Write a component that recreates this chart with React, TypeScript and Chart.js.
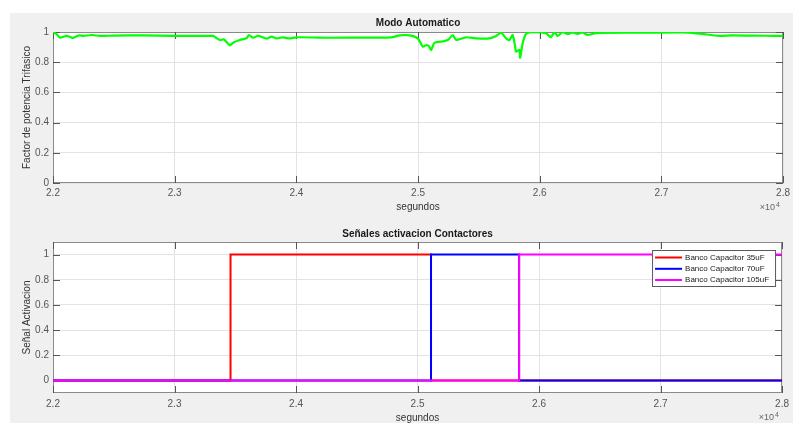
import React, { useEffect, useRef } from "react";
import { Chart, registerables } from "chart.js";

Chart.register(...registerables);

// ---------- data ----------
const xTicks = [22000, 23000, 24000, 25000, 26000, 27000, 28000];
const yTicksTop = [0, 0.2, 0.4, 0.6, 0.8, 1];
const yTicksBottom = [0, 0.2, 0.4, 0.6, 0.8, 1];

const titles = ["Modo Automatico", "Señales activacion Contactores"];
const xLabel = "segundos";
const yLabels = ["Factor de potencia Trifasico", "Señal Activacion"];
const legendLabels = ["Banco Capacitor 35uF", "Banco Capacitor 70uF", "Banco Capacitor 105uF"];

const pfTime = [
  22000, 22030, 22057, 22085, 22112, 22140, 22162, 22190, 22216, 22249,
  22318, 22386, 22500, 22741, 22988, 23316, 23340, 23371, 23404, 23430,
  23453, 23480, 23535, 23590, 23611, 23644, 23685, 23720, 23754, 23795,
  23836, 23890, 23945, 24000, 24301, 24600, 24780, 24850, 24930, 24998,
  25039, 25072, 25090, 25108, 25135, 25190, 25245, 25286, 25313, 25395,
  25477, 25587, 25642, 25683, 25724, 25751, 25778, 25795, 25806, 25833,
  25839, 25860, 25888, 25943, 26011, 26052, 26093, 26121, 26148, 26189,
  26230, 26271, 26312, 26353, 26394, 26462, 26763, 27174, 27311, 27475,
  27584, 27858, 28000,
];
const pfValue = [
  1.0, 0.985, 0.962, 0.968, 0.975, 0.968, 0.96, 0.97, 0.978, 0.974,
  0.98, 0.974, 0.976, 0.978, 0.974, 0.974, 0.962, 0.947, 0.951, 0.93,
  0.912, 0.929, 0.947, 0.958, 0.98, 0.962, 0.975, 0.966, 0.956, 0.969,
  0.958, 0.965, 0.958, 0.965, 0.962, 0.963, 0.964, 0.978, 0.978, 0.958,
  0.903, 0.914, 0.905, 0.881, 0.929, 0.936, 0.947, 0.98, 0.947, 0.965,
  0.958, 0.958, 0.974, 0.995, 0.958, 0.947, 0.98, 0.92, 0.87, 0.881,
  0.83, 0.925, 0.987, 1.0, 0.997, 0.991, 0.965, 1.0, 0.974, 1.0,
  0.985, 0.997, 0.987, 0.997, 0.98, 0.993, 0.995, 0.997, 0.989, 0.974,
  0.978, 0.975, 0.975,
];

// step signals: value holds until next time
const redTime = [22000, 23461, 25111, 28000];
const redValue = [0, 1, 0, 0];
const blueTime = [22000, 25111, 25836, 28000];
const blueValue = [0, 1, 0, 0];
const magentaTime = [22000, 25836, 28000];
const magentaValue = [0, 1, 1];

// ---------- styles ----------
const FONT = "'Liberation Sans', Arial, Helvetica, sans-serif";
const tickColor = "#555555";
const axisColor = "#555555";
const boxColor = "#8a8a8a";
const gridColor = "#e3e3e3";

const zip = (xs: number[], ys: number[]) => xs.map((x, i) => ({ x, y: ys[i] }));

const matlabPlugin = {
  id: "matlabAxes",
  beforeDraw(chart: any) {
    const { ctx, chartArea: a } = chart;
    ctx.save();
    ctx.fillStyle = "#ffffff";
    ctx.fillRect(a.left, a.top, a.right - a.left, a.bottom - a.top);
    ctx.restore();
  },
  beforeDatasetsDraw(chart: any) {
    const { ctx, chartArea: a, scales } = chart;
    const L = 7;
    ctx.save();
    ctx.strokeStyle = boxColor;
    ctx.lineWidth = 1;
    ctx.strokeRect(Math.round(a.left) + 0.5, Math.round(a.top) + 0.5, Math.round(a.right - a.left) - 1, Math.round(a.bottom - a.top) - 1);
    ctx.strokeStyle = axisColor;
    ctx.beginPath();
    scales.x.ticks.forEach((t: any) => {
      const px = Math.round(scales.x.getPixelForValue(t.value)) + 0.5;
      ctx.moveTo(px, a.bottom);
      ctx.lineTo(px, a.bottom - L);
      ctx.moveTo(px, a.top);
      ctx.lineTo(px, a.top + L);
    });
    scales.y.ticks.forEach((t: any) => {
      const py = Math.round(scales.y.getPixelForValue(t.value)) + 0.5;
      ctx.moveTo(a.left, py);
      ctx.lineTo(a.left + L, py);
      ctx.moveTo(a.right, py);
      ctx.lineTo(a.right - L, py);
    });
    ctx.stroke();
    ctx.restore();
  },
  afterDraw(chart: any, _args: any, opts: any) {
    const { ctx, chartArea: a } = chart;
    ctx.save();
    // title
    ctx.fillStyle = "#1a1a1a";
    ctx.font = `bold 10px ${FONT}`;
    ctx.textAlign = "center";
    ctx.textBaseline = "middle";
    ctx.fillText(opts.title, (a.left + a.right) / 2, a.top - opts.titleGap);
    // x10^4
    ctx.fillStyle = "#666666";
    ctx.font = `9px ${FONT}`;
    ctx.textAlign = "right";
    ctx.fillText("×10", a.right - 8, a.bottom + 25);
    ctx.font = `7px ${FONT}`;
    ctx.textAlign = "left";
    ctx.fillText("4", a.right - 7, a.bottom + 22);
    // legend
    if (opts.legend) {
      const bx = a.right - 130;
      const by = a.top + 8;
      const bw = 123;
      const bh = 36;
      ctx.fillStyle = "#ffffff";
      ctx.fillRect(bx, by, bw, bh);
      ctx.strokeStyle = "#5a5a5a";
      ctx.lineWidth = 1;
      ctx.strokeRect(bx + 0.5, by + 0.5, bw, bh);
      const rows = [7.5, 18.8, 30];
      chart.data.datasets.forEach((ds: any, i: number) => {
        const y = by + rows[i];
        ctx.strokeStyle = ds.borderColor;
        ctx.lineWidth = 2;
        ctx.beginPath();
        ctx.moveTo(bx + 3, y);
        ctx.lineTo(bx + 30, y);
        ctx.stroke();
        ctx.fillStyle = "#1a1a1a";
        ctx.font = `8px ${FONT}`;
        ctx.textAlign = "left";
        ctx.textBaseline = "middle";
        ctx.fillText(ds.label, bx + 33, y);
      });
    }
    ctx.restore();
  },
};

function makeScales(yMin: number, yMax: number, yTicks: number[], yLabel: string, xHeight: number, xTitlePad: number, xTickPad: number) {
  return {
    x: {
      type: "linear" as const,
      min: 22000,
      max: 28000,
      afterBuildTicks: (s: any) => {
        s.ticks = xTicks.map((v) => ({ value: v }));
      },
      afterFit: (s: any) => {
        s.height = xHeight;
      },
      ticks: {
        padding: xTickPad,
        color: tickColor,
        font: { size: 10, family: FONT },
        maxRotation: 0,
        autoSkip: false,
        callback: (v: any) => (Number(v) / 10000).toFixed(1),
      },
      grid: { color: gridColor, drawTicks: false, lineWidth: 1 },
      border: { display: false },
      title: {
        display: true,
        text: xLabel,
        color: "#333333",
        font: { size: 10, family: FONT },
        padding: { top: 0, bottom: xTitlePad },
      },
    },
    y: {
      type: "linear" as const,
      min: yMin,
      max: yMax,
      afterBuildTicks: (s: any) => {
        s.ticks = yTicks.map((v) => ({ value: v }));
      },
      afterFit: (s: any) => {
        s.width = 53;
      },
      ticks: {
        padding: 4,
        color: tickColor,
        font: { size: 10, family: FONT },
        callback: (v: any) => String(Number(Number(v).toFixed(1))),
      },
      grid: { color: gridColor, drawTicks: false, lineWidth: 1 },
      border: { display: false },
      title: {
        display: true,
        text: yLabel,
        color: "#333333",
        font: { size: 10, family: FONT },
        padding: { top: 21, bottom: 0 },
      },
    },
  };
}

export default function App() {
  const topRef = useRef<HTMLCanvasElement | null>(null);
  const botRef = useRef<HTMLCanvasElement | null>(null);

  useEffect(() => {
    Chart.defaults.font.family = FONT;
    const top = new Chart(topRef.current as HTMLCanvasElement, {
      type: "line",
      data: {
        datasets: [
          {
            label: "FP",
            data: zip(pfTime, pfValue),
            borderColor: "#00ff00",
            backgroundColor: "#00ff00",
            borderWidth: 2.2,
            pointRadius: 0,
            tension: 0.2,
            fill: false,
          },
        ],
      },
      options: {
        responsive: false,
        animation: false,
        devicePixelRatio: 1,
        layout: { padding: { left: 0, right: 10, top: 32, bottom: 0 } },
        plugins: {
          legend: { display: false },
          tooltip: { enabled: false },
          title: { display: false },
          matlabAxes: { title: titles[0], titleGap: 9, legend: false },
        } as any,
        scales: makeScales(0, 1, yTicksTop, yLabels[0], 39, 9, 4) as any,
      },
      plugins: [matlabPlugin],
    });

    const bot = new Chart(botRef.current as HTMLCanvasElement, {
      type: "line",
      data: {
        datasets: [
          {
            label: legendLabels[0],
            data: zip(redTime, redValue),
            borderColor: "#ff0000",
            backgroundColor: "#ff0000",
            borderWidth: 2,
            pointRadius: 0,
            stepped: true,
            fill: false,
            order: 3,
          },
          {
            label: legendLabels[1],
            data: zip(blueTime, blueValue),
            borderColor: "#0000ff",
            backgroundColor: "#0000ff",
            borderWidth: 2,
            pointRadius: 0,
            stepped: true,
            fill: false,
            order: 2,
          },
          {
            label: legendLabels[2],
            data: zip(magentaTime, magentaValue),
            borderColor: "#ff00ff",
            backgroundColor: "#ff00ff",
            borderWidth: 2,
            pointRadius: 0,
            stepped: true,
            fill: false,
            order: 1,
          },
        ],
      },
      options: {
        responsive: false,
        animation: false,
        devicePixelRatio: 1,
        layout: { padding: { left: 0, right: 10, top: 30, bottom: 0 } },
        plugins: {
          legend: { display: false },
          tooltip: { enabled: false },
          title: { display: false },
          matlabAxes: { title: titles[1], titleGap: 8, legend: true },
        } as any,
        scales: makeScales(-0.1, 1.1, yTicksBottom, yLabels[1], 41, 10, 5) as any,
      },
      plugins: [matlabPlugin],
    });

    return () => {
      top.destroy();
      bot.destroy();
    };
  }, []);

  return (
    <div
      style={{
        position: "absolute",
        left: 0,
        top: 0,
        width: 794,
        height: 423,
        overflow: "hidden",
        background: "#ffffff",
      }}
    >
      <div
        style={{
          position: "absolute",
          left: 10,
          top: 13,
          width: 783,
          height: 410,
          background: "#f0f0f0",
        }}
      />
      <canvas
        ref={topRef}
        width={794}
        height={222}
        style={{ position: "absolute", left: 0, top: 0, width: 794, height: 222, display: "block" }}
      />
      <canvas
        ref={botRef}
        width={794}
        height={222}
        style={{ position: "absolute", left: 0, top: 212, width: 794, height: 222, display: "block" }}
      />
    </div>
  );
}
